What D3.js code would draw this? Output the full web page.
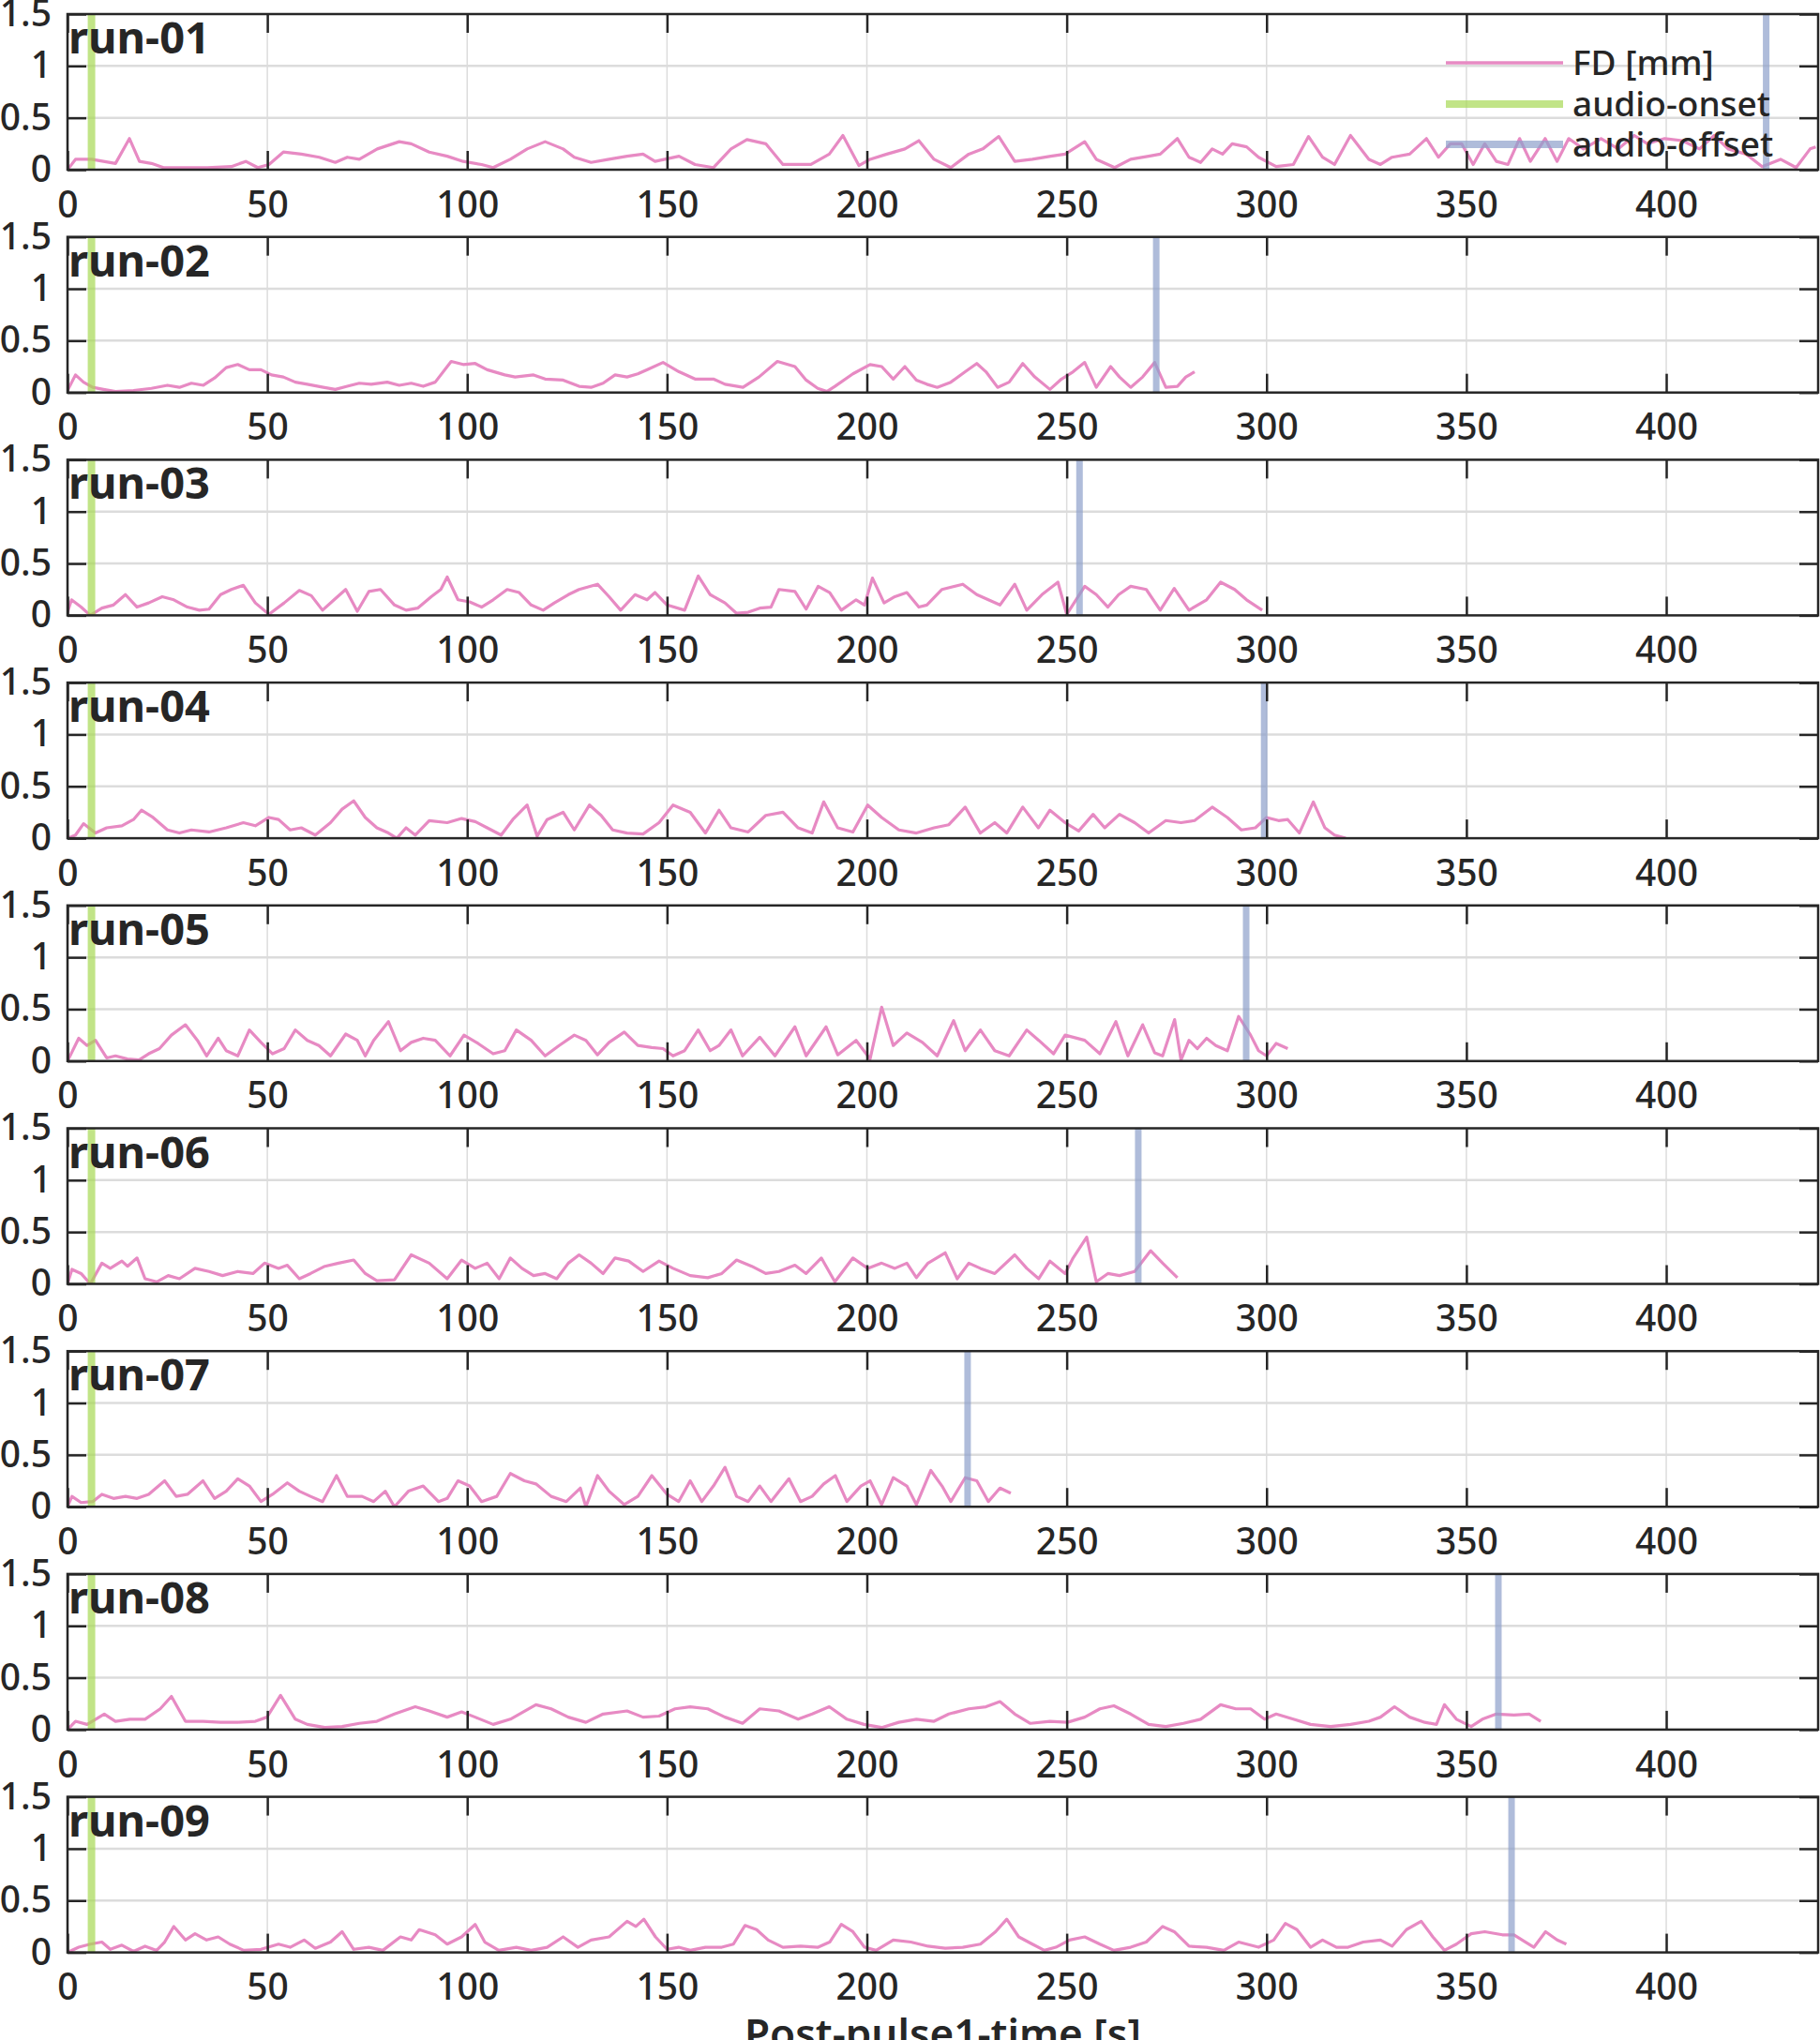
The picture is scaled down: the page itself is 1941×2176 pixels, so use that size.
<!DOCTYPE html>
<html>
<head>
<meta charset="utf-8">
<script src="https://cdn.jsdelivr.net/npm/d3@7"></script>
<style>
  body { margin: 0; background: #fff; }
  svg { display: block; }
  text { font-family: "Noto Sans", sans-serif; fill: #262626; }
</style>
</head>
<body>
<div id="chart"></div>
<script>
// run labels and audio event markers (s)
var runNames = ["run-01", "run-02", "run-03", "run-04", "run-05", "run-06", "run-07", "run-08", "run-09"];
var onsetTimes = [6, 6, 6, 6, 6, 6, 6, 6, 6];
var offsetTimes = [425, 272.4, 253.2, 299.4, 294.9, 267.9, 225.2, 358, 361.3];

var xTicks = [0, 50, 100, 150, 200, 250, 300, 350, 400];
var yTicks = [0, 0.5, 1, 1.5];
var yTickLabels = ["0", "0.5", "1", "1.5"];
var legendLabels = ["FD [mm]", "audio-onset", "audio-offset"];

// framewise displacement, [time s, FD mm]
var fd01 = [[0,0],[2,0.1],[6,0.1],[9,0.08],[12,0.06],[15.5,0.3],[18,0.08],[21,0.06],[24,0.02],[30,0.02],[35,0.02],[41,0.03],[44.6,0.08],[47.6,0.02],[50.4,0.05],[54,0.17],[58.5,0.15],[63,0.12],[67,0.07],[70,0.12],[73,0.1],[77.5,0.2],[83,0.27],[86,0.25],[90.5,0.17],[95,0.13],[99,0.08],[103.6,0.05],[106.5,0.02],[110.8,0.1],[115,0.2],[119.5,0.27],[124,0.2],[126.8,0.12],[131,0.07],[135.5,0.1],[140,0.13],[144,0.15],[147,0.08],[153,0.13],[157,0.05],[161.6,0.02],[166,0.2],[170,0.29],[174.7,0.25],[179,0.05],[182,0.05],[186,0.05],[190.6,0.15],[194,0.33],[198,0.04],[200.8,0.1],[205,0.15],[209.5,0.2],[213,0.28],[216.8,0.1],[221,0.02],[225.5,0.15],[229,0.2],[233,0.32],[237,0.08],[241.4,0.1],[246,0.13],[249.6,0.15],[254.5,0.27],[257.4,0.1],[262,0.02],[266,0.1],[270.5,0.13],[273.4,0.15],[277.7,0.3],[280.6,0.12],[283.5,0.07],[286.4,0.2],[289,0.15],[291.4,0.25],[295,0.22],[298,0.12],[302.4,0.03],[306.7,0.05],[310.5,0.32],[314,0.12],[317,0.05],[321,0.33],[325.6,0.1],[328.5,0.05],[331.4,0.12],[335.8,0.15],[340,0.3],[343,0.12],[346,0.25],[348.8,0.25],[351.7,0.05],[354.6,0.25],[357.5,0.08],[360.4,0.05],[363.3,0.3],[366,0.08],[369.7,0.3],[372.7,0.08],[375.6,0.3],[379.3,0.2],[383.7,0.3],[388,0.2],[392,0.33],[395.3,0.25],[399.6,0.3],[404,0.28],[408.3,0.2],[412,0.33],[415.5,0.2],[420,0.15],[424,0.03],[428.6,0.1],[432.5,0.02],[436,0.2],[437.4,0.22]];
var fd02 = [[0,0.02],[2,0.17],[4,0.1],[6.3,0.05],[9,0.03],[12,0.01],[16.5,0.02],[21,0.04],[25,0.07],[28,0.05],[31,0.09],[34,0.07],[36.8,0.14],[39.7,0.24],[42.6,0.27],[45.5,0.22],[48.4,0.22],[51,0.17],[54,0.15],[57,0.1],[60,0.08],[64,0.05],[67,0.03],[70,0.06],[73,0.09],[76,0.08],[80,0.1],[83,0.07],[86,0.09],[89,0.06],[92,0.1],[96,0.3],[99,0.27],[102,0.28],[105,0.22],[109.4,0.17],[112,0.15],[116.6,0.17],[119.5,0.13],[124,0.12],[128,0.06],[131,0.05],[134,0.09],[137,0.17],[140,0.15],[142.7,0.18],[145.6,0.23],[149,0.29],[153,0.2],[157,0.13],[161.6,0.13],[164.5,0.08],[169,0.05],[173,0.15],[177.6,0.3],[182,0.25],[184.8,0.12],[187.7,0.04],[190,0.01],[192,0.06],[196.5,0.18],[200.8,0.27],[203.7,0.25],[206.6,0.13],[209.5,0.25],[212.4,0.12],[215,0.08],[217.6,0.05],[221,0.1],[224.6,0.2],[227.5,0.28],[229.8,0.2],[232.7,0.05],[235.6,0.1],[239,0.28],[242,0.15],[245.8,0.03],[248.7,0.13],[251.6,0.2],[254.5,0.29],[257.4,0.05],[261,0.25],[263.2,0.15],[266,0.05],[269,0.15],[272,0.29],[274.8,0.05],[277.7,0.06],[279.8,0.15],[282,0.2]];
var fd03 = [[0,0.03],[1,0.15],[3.4,0.08],[5.7,0],[8.6,0.07],[11.5,0.1],[14.5,0.2],[17.4,0.08],[20.3,0.12],[23.7,0.18],[26.6,0.15],[30,0.08],[33,0.05],[35.4,0.06],[38.3,0.2],[41,0.25],[44,0.29],[47,0.12],[50.4,0.01],[54.2,0.12],[58,0.24],[61,0.19],[63.8,0.05],[66.7,0.15],[69.6,0.25],[72.5,0.04],[75.4,0.23],[78.3,0.25],[81.8,0.1],[84.7,0.05],[87.6,0.07],[91,0.18],[93.4,0.25],[95,0.37],[97.7,0.15],[100.6,0.13],[103.6,0.08],[106.5,0.15],[110,0.25],[113,0.22],[116,0.1],[119,0.05],[121.8,0.12],[125.3,0.2],[128,0.25],[132.6,0.3],[135.5,0.18],[138.4,0.05],[142,0.2],[145,0.15],[147,0.22],[150,0.1],[154.4,0.05],[157.8,0.38],[160.8,0.2],[164.5,0.12],[167.4,0.02],[170.3,0.03],[173.2,0.07],[176,0.08],[178,0.25],[182,0.23],[184.8,0.06],[187.8,0.28],[190.7,0.22],[193.6,0.05],[197.3,0.15],[199.4,0.1],[201.4,0.36],[204.3,0.12],[207,0.18],[210,0.22],[213,0.08],[215,0.1],[218.8,0.25],[224,0.3],[227.5,0.2],[230.4,0.15],[233.3,0.1],[237,0.3],[240,0.05],[243.8,0.2],[247.8,0.32],[250,0.01],[254.5,0.28],[257.4,0.2],[260.3,0.08],[263,0.2],[266,0.28],[269.9,0.25],[273.4,0.05],[276.9,0.26],[280.6,0.05],[285,0.15],[288.5,0.32],[292,0.25],[295,0.15],[298.9,0.05]];
var fd04 = [[0,0],[2,0.03],[4,0.14],[7,0.05],[9.8,0.1],[13.6,0.12],[16.5,0.18],[18.5,0.27],[21.4,0.2],[25,0.08],[28,0.05],[31,0.08],[35.4,0.06],[39.7,0.1],[44,0.15],[47,0.12],[50.4,0.2],[52.8,0.18],[55.7,0.08],[58.5,0.1],[62,0.03],[65.8,0.15],[68.7,0.28],[71.6,0.36],[74.5,0.2],[77.4,0.1],[80.3,0.05],[82.4,0],[84.7,0.1],[87,0.03],[90.5,0.17],[95,0.15],[98.6,0.19],[102,0.16],[105,0.1],[108.5,0.03],[111.4,0.18],[115,0.32],[117.5,0.02],[120,0.18],[124,0.25],[126.8,0.08],[130.6,0.32],[133.5,0.22],[136.4,0.08],[140,0.05],[144,0.04],[148,0.15],[151.5,0.32],[155.8,0.25],[159.6,0.05],[163,0.27],[166,0.1],[170.3,0.06],[174.7,0.22],[179,0.25],[182.8,0.1],[186.3,0.05],[189.2,0.35],[192.7,0.1],[196.5,0.06],[200.2,0.32],[203.7,0.2],[208,0.08],[212.4,0.05],[216.8,0.1],[220.5,0.13],[224.6,0.3],[228.4,0.05],[232,0.15],[235,0.05],[239,0.3],[242.9,0.1],[245.8,0.27],[249.6,0.15],[253,0.07],[256.6,0.23],[259.5,0.1],[263.2,0.23],[267,0.15],[270.5,0.05],[274.8,0.17],[278.6,0.15],[282,0.17],[286.4,0.3],[290.2,0.2],[293.7,0.08],[297.2,0.1],[300,0.2],[303,0.17],[305.3,0.18],[308.2,0.05],[311.7,0.35],[314.6,0.1],[317,0.03],[319.8,0]];
var fd05 = [[0,0],[2.8,0.22],[4.9,0.15],[7,0.2],[9.8,0.03],[12,0.05],[15,0.02],[17.9,0.01],[20.3,0.07],[23,0.12],[26,0.25],[29.5,0.35],[32.5,0.2],[34.8,0.05],[37.7,0.22],[39.7,0.1],[42.6,0.05],[45.5,0.3],[48.4,0.18],[51.3,0.07],[54.2,0.12],[57,0.3],[60,0.2],[62.9,0.15],[65.8,0.05],[69.6,0.26],[72.5,0.2],[74.5,0.05],[76.6,0.2],[80.3,0.38],[83.3,0.1],[86,0.18],[89,0.22],[92,0.2],[95.7,0.05],[99.2,0.25],[102.7,0.17],[106.5,0.07],[109.4,0.1],[112.3,0.3],[116,0.2],[119.5,0.05],[123,0.15],[126.8,0.25],[129.7,0.2],[132.6,0.06],[135.5,0.18],[139.3,0.28],[142.7,0.15],[146.2,0.13],[149,0.12],[151.5,0.05],[154.4,0.1],[157.8,0.3],[160.8,0.1],[163,0.15],[166,0.3],[168.9,0.05],[173.2,0.23],[177,0.05],[182,0.33],[184.8,0.05],[189.8,0.33],[192.7,0.06],[197.3,0.2],[200.8,0.02],[203.7,0.52],[206.6,0.15],[210,0.27],[213.9,0.18],[217.6,0.05],[221.7,0.39],[224.6,0.1],[228.4,0.3],[232,0.1],[235.6,0.05],[240,0.3],[243,0.2],[246.7,0.07],[249.6,0.25],[254.5,0.2],[258.3,0.07],[262.3,0.38],[265.3,0.05],[269,0.35],[272,0.08],[274,0.05],[277,0.4],[278.6,0.01],[280.6,0.2],[282.7,0.12],[285,0.22],[287.3,0.15],[290.2,0.1],[293,0.43],[296,0.25],[298,0.1],[300,0.05],[302.4,0.17],[305.3,0.12]];
var fd06 = [[0,0],[1.1,0.14],[3.4,0.1],[5.7,0],[8.6,0.2],[10.7,0.15],[13.6,0.22],[15,0.17],[17.4,0.25],[19.4,0.05],[22.3,0.02],[25.2,0.08],[28,0.05],[31.9,0.15],[35.4,0.12],[38.8,0.08],[42.6,0.12],[46.4,0.1],[49.3,0.2],[52.8,0.15],[55,0.18],[58,0.05],[60.8,0.1],[64.4,0.17],[67.8,0.2],[71.6,0.23],[74.5,0.1],[77.4,0.03],[81.8,0.04],[86,0.28],[90.5,0.2],[95,0.05],[98.6,0.23],[102,0.15],[105,0.2],[108,0.05],[110.8,0.25],[113.7,0.15],[116.6,0.08],[119.5,0.1],[122.4,0.05],[125.3,0.2],[128,0.28],[131,0.2],[134,0.1],[137,0.25],[140.4,0.22],[144,0.12],[148,0.22],[151.5,0.15],[155.8,0.08],[160.2,0.06],[163.7,0.1],[167.4,0.23],[171.2,0.17],[174.7,0.1],[178,0.12],[182,0.18],[184.8,0.1],[188.6,0.25],[192,0.02],[196.5,0.25],[200.2,0.15],[203.7,0.2],[207,0.15],[210,0.2],[212.4,0.06],[215.3,0.2],[219.6,0.3],[222.6,0.05],[225.5,0.2],[228.4,0.15],[232,0.1],[237,0.28],[240,0.15],[243,0.05],[245.8,0.22],[249.6,0.1],[251.6,0.25],[255,0.45],[257.4,0.02],[260.3,0.1],[263.2,0.08],[267,0.12],[271,0.32],[274,0.2],[277.7,0.06]];
var fd07 = [[0,0],[1.1,0.1],[3.4,0.04],[6.3,0.05],[8.6,0.12],[11.5,0.08],[14.5,0.1],[17.4,0.08],[20.3,0.12],[24.3,0.25],[27.2,0.1],[30,0.12],[33.9,0.25],[36.8,0.08],[39.7,0.15],[42.6,0.27],[45.5,0.2],[48.4,0.05],[51.3,0.12],[55,0.23],[58,0.15],[60.8,0.1],[63.8,0.05],[67.3,0.3],[70,0.1],[73.7,0.1],[76.6,0.05],[79.5,0.15],[81.8,0],[85.3,0.15],[89,0.2],[92.8,0.05],[95,0.08],[97.7,0.25],[100.6,0.2],[103.6,0.05],[107.4,0.1],[110.8,0.32],[114.3,0.25],[117.2,0.22],[121,0.1],[124.8,0.05],[128.3,0.18],[129.7,0],[132.6,0.3],[135.5,0.15],[139.3,0.02],[142.7,0.1],[146.2,0.3],[150,0.12],[152.9,0.05],[155.8,0.25],[158.7,0.05],[161.6,0.2],[164.5,0.38],[167.4,0.1],[170.3,0.05],[173.2,0.2],[176,0.05],[180.5,0.27],[183.4,0.05],[186.3,0.1],[189.2,0.22],[192.1,0.3],[195,0.05],[198.5,0.2],[200.8,0.25],[203.7,0.02],[206.6,0.28],[210,0.2],[212.4,0.02],[216,0.35],[218.8,0.2],[221,0.05],[224.6,0.28],[227.5,0.25],[230.4,0.05],[233.3,0.18],[236,0.13]];
var fd08 = [[0,0],[2,0.08],[4.9,0.05],[9.2,0.15],[12,0.08],[15.6,0.1],[19.4,0.1],[23.2,0.2],[26,0.32],[29.5,0.08],[33.9,0.08],[38.3,0.07],[42.6,0.07],[47,0.08],[49.9,0.12],[53.3,0.33],[57,0.1],[60,0.05],[64.4,0.02],[68.7,0.03],[73,0.06],[77.4,0.08],[81.8,0.15],[87,0.22],[90.5,0.18],[95,0.12],[98.6,0.17],[102,0.12],[106.5,0.05],[110.8,0.1],[117.2,0.24],[121,0.2],[125.3,0.12],[129.7,0.07],[134,0.15],[140,0.18],[144,0.12],[148,0.13],[152,0.2],[155.8,0.22],[160.2,0.2],[164.5,0.12],[168.9,0.06],[173.2,0.2],[178,0.18],[182.8,0.1],[186.3,0.15],[190.6,0.22],[195,0.1],[199.3,0.05],[203.7,0.02],[208,0.07],[212.4,0.1],[216.8,0.08],[220.5,0.15],[225.5,0.2],[229.8,0.22],[233.3,0.27],[237,0.15],[240.9,0.06],[245.8,0.08],[250.2,0.07],[254.5,0.12],[258.3,0.2],[261.8,0.23],[266,0.15],[270.5,0.05],[274.8,0.03],[279.2,0.06],[283.5,0.1],[288.5,0.24],[292.3,0.2],[296,0.2],[299.5,0.1],[302.4,0.15],[306.7,0.1],[311,0.05],[316,0.03],[321,0.05],[325.6,0.08],[328.5,0.12],[332,0.22],[335.8,0.12],[339.6,0.07],[342.5,0.05],[344.5,0.24],[347.5,0.1],[351.2,0.03],[354,0.1],[357.5,0.15],[361.9,0.14],[365.7,0.15],[368.6,0.08]];
var fd09 = [[0,0],[2.8,0.05],[5.7,0.08],[8.6,0.1],[10.7,0.03],[13.6,0.07],[16.5,0.01],[19.4,0.06],[22.3,0.02],[24.3,0.1],[26.6,0.25],[29.5,0.12],[31.9,0.18],[34.8,0.12],[37.7,0.15],[40.6,0.08],[44.1,0.02],[48.4,0.03],[52.8,0.08],[55.7,0.05],[59.2,0.12],[62,0.04],[65.8,0.1],[68.7,0.2],[71.6,0.03],[75.4,0.05],[78.9,0.02],[83.3,0.15],[86,0.12],[88,0.22],[92,0.17],[95,0.08],[98.6,0.15],[102,0.27],[104.4,0.1],[107.9,0.02],[112.3,0.05],[116,0.02],[120,0.05],[124,0.15],[127.7,0.05],[131,0.12],[135.5,0.15],[140,0.3],[142.2,0.25],[144.2,0.32],[147.1,0.15],[150,0.03],[152.9,0.05],[155.8,0.02],[159.6,0.05],[163.7,0.05],[166.6,0.08],[169.5,0.26],[172.4,0.22],[175.3,0.12],[179,0.05],[183.4,0.06],[187.8,0.05],[190.7,0.1],[193.6,0.27],[196.5,0.2],[199.4,0.05],[202.3,0.02],[206.6,0.12],[211,0.1],[215.3,0.06],[219.6,0.04],[224,0.05],[228.4,0.08],[232.2,0.2],[235,0.32],[238,0.15],[241.4,0.08],[244.4,0.02],[247.3,0.05],[250.7,0.12],[254.5,0.15],[258.3,0.08],[261.8,0.02],[266,0.05],[269.9,0.1],[274,0.25],[276.9,0.2],[280.6,0.06],[285,0.05],[289.3,0.02],[293,0.1],[298,0.05],[301.8,0.12],[304.7,0.28],[307.6,0.22],[311,0.05],[314,0.12],[317.5,0.05],[320.4,0.05],[324.2,0.1],[328.5,0.12],[331.4,0.06],[335,0.22],[338.7,0.3],[341.6,0.15],[344.5,0.02],[347.5,0.08],[351.2,0.18],[354.6,0.2],[359,0.17],[361.9,0.17],[364.8,0.1],[366.9,0.05],[369.8,0.2],[372.7,0.12],[375,0.08]];

var fdRuns = [fd01, fd02, fd03, fd04, fd05, fd06, fd07, fd08, fd09];

// colours
var fdColor = "#e78ac3",
    onsetColor = "#a6d854",
    offsetColor = "#8da0cb",
    gridColor = "#dcdcdc",
    axisColor = "#262626";

// layout
var W = 1941, H = 2176;
var left = 72, right = 1939;
var panelTop0 = 15, panelStep = 237.7, panelH = 166;
var tickLen = 20;

var svg = d3.select("#chart")
  .append("svg")
    .attr("width", W)
    .attr("height", H);

var x = d3.scaleLinear()
  .domain([0, 438])
  .range([left, right]);

svg.append("defs").selectAll("clipPath")
  .data(runNames)
  .enter()
  .append("clipPath")
    .attr("id", function(d, i) { return "clip" + i; })
  .append("rect")
    .attr("x", left)
    .attr("y", function(d, i) { return panelTop0 + i * panelStep; })
    .attr("width", right - left)
    .attr("height", panelH);

runNames.forEach(function(name, i) {
  var top = panelTop0 + i * panelStep;
  var bottom = top + panelH;

  var y = d3.scaleLinear()
    .domain([0, 1.5])
    .range([bottom, top]);

  var g = svg.append("g").attr("class", "panel");

  // grid
  g.selectAll(".vgrid")
    .data(xTicks.slice(1))
    .enter()
    .append("line")
      .attr("x1", function(d) { return x(d); })
      .attr("x2", function(d) { return x(d); })
      .attr("y1", top)
      .attr("y2", bottom)
      .attr("stroke", gridColor)
      .attr("stroke-width", 1.5);

  g.selectAll(".hgrid")
    .data(yTicks.slice(1, 3))
    .enter()
    .append("line")
      .attr("x1", left)
      .attr("x2", right)
      .attr("y1", function(d) { return y(d); })
      .attr("y2", function(d) { return y(d); })
      .attr("stroke", gridColor)
      .attr("stroke-width", 2.5);

  // FD trace
  var line = d3.line()
    .x(function(d) { return x(d[0]); })
    .y(function(d) { return y(d[1]); });

  g.append("path")
    .datum(fdRuns[i])
    .attr("clip-path", "url(#clip" + i + ")")
    .attr("d", line)
    .attr("fill", "none")
    .attr("stroke", fdColor)
    .attr("stroke-width", 3.2)
    .attr("stroke-linejoin", "round");

  // audio onset / offset
  g.append("line")
    .attr("x1", x(onsetTimes[i]))
    .attr("x2", x(onsetTimes[i]))
    .attr("y1", top)
    .attr("y2", bottom)
    .attr("stroke", onsetColor)
    .attr("stroke-opacity", 0.7)
    .attr("stroke-width", 8);

  g.append("line")
    .attr("x1", x(offsetTimes[i]))
    .attr("x2", x(offsetTimes[i]))
    .attr("y1", top)
    .attr("y2", bottom)
    .attr("stroke", offsetColor)
    .attr("stroke-opacity", 0.7)
    .attr("stroke-width", 7);

  // axes, ticks pointing inward
  g.append("g")
    .attr("transform", "translate(0," + bottom + ")")
    .call(d3.axisBottom(x).tickValues(xTicks).tickSize(-tickLen).tickPadding(23));

  g.append("g")
    .attr("transform", "translate(0," + top + ")")
    .call(d3.axisTop(x).tickValues(xTicks).tickSize(-tickLen).tickFormat(""));

  g.append("g")
    .attr("transform", "translate(" + left + ",0)")
    .call(d3.axisLeft(y).tickValues(yTicks).tickSize(-tickLen).tickPadding(17)
      .tickFormat(function(d, k) { return yTickLabels[k]; }));

  g.append("g")
    .attr("transform", "translate(" + right + ",0)")
    .call(d3.axisRight(y).tickValues(yTicks).tickSize(-tickLen).tickFormat(""));

  g.selectAll(".domain").remove();
  g.selectAll(".tick line")
    .attr("stroke", axisColor)
    .attr("stroke-width", 2.5);
  g.selectAll(".tick text")
    .attr("fill", axisColor)
    .style("font-family", "'Noto Sans', sans-serif")
    .style("font-size", "39px")
    .style("font-weight", "500");

  g.append("rect")
    .attr("x", left)
    .attr("y", top)
    .attr("width", right - left)
    .attr("height", panelH)
    .attr("fill", "none")
    .attr("stroke", axisColor)
    .attr("stroke-width", 2.5);

  // run label
  g.append("text")
    .attr("x", left + 1)
    .attr("y", top + 42)
    .style("font-size", "47px")
    .style("font-weight", "bold")
    .text(name);
});

// legend in first panel
var legendX = 1542, legendY = [67, 111, 154];
var legendColors = [fdColor, onsetColor, offsetColor];
var legendWidths = [3.5, 8, 8];
var legendOpacity = [1, 0.7, 0.7];

var legend = svg.append("g");
legend.selectAll("line")
  .data(legendLabels)
  .enter()
  .append("line")
    .attr("x1", legendX)
    .attr("x2", legendX + 125)
    .attr("y1", function(d, k) { return legendY[k]; })
    .attr("y2", function(d, k) { return legendY[k]; })
    .attr("stroke", function(d, k) { return legendColors[k]; })
    .attr("stroke-opacity", function(d, k) { return legendOpacity[k]; })
    .attr("stroke-width", function(d, k) { return legendWidths[k]; });

legend.selectAll("text")
  .data(legendLabels)
  .enter()
  .append("text")
    .attr("x", legendX + 135)
    .attr("y", function(d, k) { return legendY[k]; })
    .attr("dy", "0.36em")
    .style("font-size", "37px")
    .style("font-weight", "500")
    .text(function(d) { return d; });

// x label (partly off the bottom edge, as in the figure)
svg.append("text")
  .attr("x", (left + right) / 2)
  .attr("y", 2185)
  .attr("text-anchor", "middle")
  .style("font-size", "44px")
  .style("font-weight", "600")
  .text("Post-pulse1-time [s]");
</script>
</body>
</html>
